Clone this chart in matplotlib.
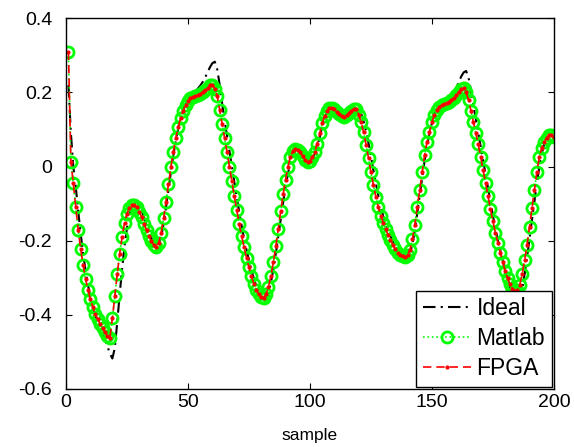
import numpy as np
import matplotlib
matplotlib.use("Agg")
import matplotlib.pyplot as plt

plt.rcParams['font.family'] = ['Liberation Sans', 'DejaVu Sans']
plt.rcParams['axes.unicode_minus'] = False

# Matlab output, samples 1..200 (FPGA output lies on top of it)
matlab = [
    0.310, 0.013, -0.045, -0.110, -0.170, -0.222, -0.265, -0.303, -0.333, -0.358,
    -0.379, -0.397, -0.412, -0.425, -0.437, -0.447, -0.456, -0.462, -0.410, -0.350,
    -0.290, -0.235, -0.190, -0.152, -0.127, -0.112, -0.105, -0.104, -0.110, -0.122,
    -0.137, -0.155, -0.172, -0.188, -0.202, -0.212, -0.216, -0.205, -0.178, -0.140,
    -0.095, -0.048, -0.002, 0.040, 0.077, 0.107, 0.131, 0.150, 0.165, 0.176,
    0.184, 0.188, 0.190, 0.192, 0.196, 0.201, 0.207, 0.213, 0.219, 0.221,
    0.210, 0.190, 0.152, 0.115, 0.078, 0.040, 0.000, -0.040, -0.080, -0.118,
    -0.155, -0.188, -0.218, -0.246, -0.272, -0.296, -0.316, -0.333, -0.345, -0.353,
    -0.355, -0.345, -0.325, -0.295, -0.258, -0.215, -0.168, -0.120, -0.075, -0.035,
    0.000, 0.027, 0.042, 0.047, 0.045, 0.038, 0.028, 0.018, 0.013, 0.016,
    0.025, 0.040, 0.062, 0.090, 0.117, 0.137, 0.150, 0.157, 0.158, 0.155,
    0.148, 0.141, 0.136, 0.135, 0.138, 0.144, 0.150, 0.154, 0.155, 0.140,
    0.119, 0.092, 0.059, 0.023, -0.016, -0.049, -0.081, -0.110, -0.133, -0.151,
    -0.169, -0.184, -0.198, -0.211, -0.223, -0.232, -0.238, -0.242, -0.243, -0.238,
    -0.225, -0.196, -0.157, -0.108, -0.063, -0.016, 0.032, 0.067, 0.094, 0.119,
    0.140, 0.153, 0.160, 0.165, 0.168, 0.171, 0.174, 0.179, 0.186, 0.194,
    0.202, 0.208, 0.211, 0.200, 0.180, 0.150, 0.120, 0.090, 0.060, 0.025,
    -0.010, -0.045, -0.080, -0.115, -0.148, -0.178, -0.205, -0.232, -0.258, -0.281,
    -0.302, -0.318, -0.330, -0.336, -0.332, -0.319, -0.290, -0.252, -0.211, -0.163,
    -0.113, -0.063, -0.015, 0.025, 0.050, 0.067, 0.078, 0.084, 0.085, 0.080,
]
fpga = list(matlab)

# ideal signal, samples 1..200
ideal = [
    0.220, 0.090, 0.000, -0.055, -0.120, -0.180, -0.235, -0.280, -0.320, -0.352,
    -0.378, -0.400, -0.420, -0.437, -0.452, -0.468, -0.485, -0.505, -0.518, -0.490,
    -0.420, -0.345, -0.275, -0.215, -0.165, -0.130, -0.108, -0.098, -0.097, -0.105,
    -0.120, -0.138, -0.158, -0.176, -0.193, -0.207, -0.215, -0.210, -0.190, -0.155,
    -0.110, -0.062, -0.015, 0.030, 0.070, 0.103, 0.130, 0.152, 0.168, 0.180,
    0.190, 0.197, 0.203, 0.210, 0.218, 0.228, 0.240, 0.254, 0.268, 0.279,
    0.283, 0.262, 0.220, 0.170, 0.125, 0.083, 0.042, 0.000, -0.042, -0.083,
    -0.122, -0.160, -0.194, -0.225, -0.253, -0.279, -0.302, -0.322, -0.338, -0.350,
    -0.357, -0.355, -0.340, -0.313, -0.277, -0.235, -0.190, -0.143, -0.097, -0.055,
    -0.018, 0.012, 0.033, 0.045, 0.048, 0.043, 0.034, 0.024, 0.016, 0.015,
    0.021, 0.034, 0.053, 0.079, 0.107, 0.130, 0.147, 0.157, 0.161, 0.160,
    0.154, 0.146, 0.139, 0.136, 0.137, 0.142, 0.149, 0.155, 0.158, 0.156,
    0.143, 0.122, 0.095, 0.063, 0.028, -0.010, -0.045, -0.078, -0.108, -0.133,
    -0.154, -0.172, -0.188, -0.203, -0.216, -0.228, -0.237, -0.244, -0.248, -0.246,
    -0.235, -0.210, -0.172, -0.125, -0.077, -0.030, 0.016, 0.056, 0.090, 0.118,
    0.140, 0.156, 0.166, 0.172, 0.176, 0.179, 0.183, 0.190, 0.200, 0.213,
    0.228, 0.243, 0.254, 0.258, 0.240, 0.205, 0.165, 0.128, 0.092, 0.055,
    0.018, -0.020, -0.058, -0.096, -0.133, -0.167, -0.198, -0.226, -0.253, -0.278,
    -0.302, -0.325, -0.346, -0.362, -0.370, -0.360, -0.330, -0.290, -0.245, -0.195,
    -0.143, -0.093, -0.045, -0.003, 0.035, 0.060, 0.075, 0.082, 0.085, 0.082,
]

samples = np.arange(1, len(matlab) + 1)

xticks = [0, 50, 100, 150, 200]
yticks = [-0.6, -0.4, -0.2, 0, 0.2, 0.4]
ytick_labels = ['-0.6', '-0.4', '-0.2', '0', '0.2', '0.4']

fig = plt.figure(figsize=(5.74, 4.47), dpi=100)
ax = fig.add_axes([0.115, 0.13, 0.85, 0.829])

ax.plot(samples, ideal, color='black', linestyle='-.', linewidth=1.5,
        dashes=(6, 2.5, 1, 2.5), label='Ideal')
ax.plot(samples, matlab, color=(0, 1, 0), linestyle=':', linewidth=1.2,
        marker='o', markersize=8, markerfacecolor='none',
        markeredgewidth=2.0, label='Matlab')
ax.plot(samples, fpga, color='red', linestyle='--', linewidth=1.2,
        dashes=(5, 3), marker='.', markersize=4, label='FPGA')

ax.set_xlim(0, 200)
ax.set_ylim(-0.6, 0.4)
ax.set_xticks(xticks)
ax.set_yticks(yticks)
ax.set_yticklabels(ytick_labels)
ax.tick_params(direction='in', top=True, right=True, length=4,
               labelsize=14, width=0.8)
ax.tick_params(axis='x', pad=4)
ax.tick_params(axis='y', pad=10)
for sp in ax.spines.values():
    sp.set_linewidth(1.0)
ax.set_xlabel('sample', fontsize=12.5, labelpad=12)

leg = ax.legend(loc='lower right', fontsize=16.5, fancybox=False,
                edgecolor='black', framealpha=1, borderaxespad=0.08,
                handlelength=2.1, labelspacing=0.3, borderpad=0.3,
                handletextpad=0.25)
leg.get_frame().set_linewidth(1.0)

fig.savefig('out.png', dpi=100)
